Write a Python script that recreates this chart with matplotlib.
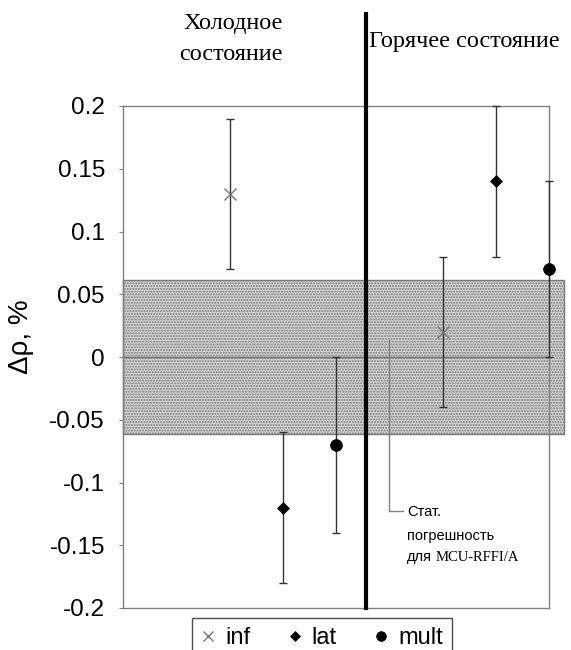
import matplotlib
matplotlib.use("Agg")
import matplotlib.pyplot as plt
from matplotlib.lines import Line2D
from matplotlib.patches import Rectangle

# data
series = ["inf", "lat", "mult"]
x_cold = [2, 3, 4]
x_hot = [6, 7, 8]
y_cold = [0.13, -0.12, -0.07]
y_hot = [0.02, 0.14, 0.07]
err_cold = [0.06, 0.06, 0.07]
err_hot = [0.06, 0.06, 0.07]
markers = ["x", "D", "o"]
marker_colors = ["#777777", "black", "black"]
marker_sizes = [8, 6.5, 8.5]

band_half = 0.061          # stat. error of MCU-RFFI/A
divider_x = 4.56
yticks = [0.2, 0.15, 0.1, 0.05, 0, -0.05, -0.1, -0.15, -0.2]
ytick_labels = ["0.2", "0.15", "0.1", "0.05", "0", "-0.05", "-0.1", "-0.15", "-0.2"]

sans = "Liberation Sans"
serif = "Liberation Serif"

plt.rcParams["hatch.color"] = "#c2c2c2"

fig = plt.figure(figsize=(5.71, 6.5), dpi=100)
ax = fig.add_axes([123 / 571, 1 - 608 / 650, 426 / 571, 502 / 650])
ax.set_xlim(0, 8)
ax.set_ylim(-0.2, 0.2)

for s in ax.spines.values():
    s.set_color("#808080")
    s.set_linewidth(1)

# shaded band, runs a bit past the right frame
band = Rectangle((0, -band_half), 8.28, 2 * band_half, facecolor="#d6d6d6",
                 edgecolor="#7a7a7a", linewidth=1, hatch="......", clip_on=False, zorder=1)
ax.add_patch(band)

ax.axhline(0, color="#707070", linewidth=1, zorder=2)

for i in range(len(series)):
    for xs, ys, es in [(x_cold, y_cold, err_cold), (x_hot, y_hot, err_hot)]:
        ax.errorbar(xs[i], ys[i], yerr=es[i], fmt="none", ecolor="#333333",
                    elinewidth=1, capsize=3, capthick=1, zorder=3, clip_on=False)
        ax.plot(xs[i], ys[i], marker=markers[i], color=marker_colors[i],
                markersize=marker_sizes[i], linestyle="none",
                markeredgewidth=1 if markers[i] == "x" else 0.5, zorder=4, clip_on=False)

ax.axvline(divider_x, ymin=0, ymax=(608 - 14) / 502, color="black", linewidth=3,
           clip_on=False, zorder=5)

# leader for the band note
ax.plot([5.0, 5.0, 5.26], [0.0135, -0.123, -0.123], color="#808080", linewidth=1, zorder=3)
ax.text(5.33, -0.1235, "Стат.", fontsize=10.5, family=sans, va="center", ha="left")
ax.text(5.33, -0.1425, "погрешность", fontsize=10.5, family=sans, va="center", ha="left")
ax.text(5.33, -0.1595, "для", fontsize=10.5, family=sans, va="center", ha="left")
ax.annotate("MCU-RFFI/A", xy=(5.33, -0.1595), xytext=(21, 0), textcoords="offset points",
            fontsize=10.5, family=serif, va="center", ha="left")

ax.set_xticks([])
ax.set_yticks(yticks)
ax.set_yticklabels(ytick_labels, family=sans, fontsize=17.5)
ax.tick_params(axis="y", length=3, color="#808080", pad=10)

ax.set_ylabel("Δρ, %", family=sans, fontsize=20)
ax.yaxis.set_label_coords(-0.21, 0.54)

fig.text(233 / 571, 1 - 23 / 650, "Холодное", family=serif, fontsize=17.5, ha="center", va="center")
fig.text(231 / 571, 1 - 55 / 650, "состояние", family=serif, fontsize=17.5, ha="center", va="center")
fig.text(369 / 571, 1 - 42 / 650, "Горячее состояние", family=serif, fontsize=17.5,
         ha="left", va="center")

handles = [Line2D([0], [0], marker=markers[i], color=marker_colors[i], linestyle="none",
                  markersize=marker_sizes[i] - 1.5, markeredgewidth=1 if markers[i] == "x" else 0.5)
           for i in range(len(series))]
leg = fig.legend(handles, series, loc="upper center", bbox_to_anchor=(322 / 571, 1 - 618 / 650),
                 ncol=3, frameon=True, fancybox=False, shadow=False, handlelength=0.6,
                 handletextpad=0.4, columnspacing=1.6, borderpad=0.4, borderaxespad=0,
                 prop={"family": sans, "size": 17})
leg.get_frame().set_edgecolor("#222222")
leg.get_frame().set_linewidth(1)

fig.savefig("out.png", dpi=100)
